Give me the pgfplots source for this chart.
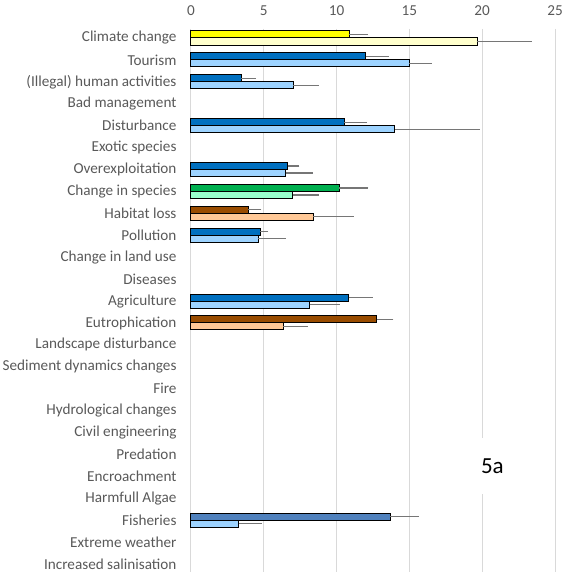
\documentclass[border=0pt]{standalone}
\usepackage{pgfplots}
\pgfplotsset{compat=1.18}
\usepackage{fontspec}
\setmainfont{Carlito}

\definecolor{txt}{HTML}{595959}
\definecolor{gridc}{HTML}{D9D9D9}
\definecolor{errc}{HTML}{767676}
\definecolor{yelD}{HTML}{FFFF00}
\definecolor{yelL}{HTML}{FFFFCC}
\definecolor{bluD}{HTML}{0070C0}
\definecolor{bluL}{HTML}{9DD3FF}
\definecolor{grnD}{HTML}{00B050}
\definecolor{grnL}{HTML}{99FFCC}
\definecolor{brnD}{HTML}{994C00}
\definecolor{brnL}{HTML}{FFC896}
\definecolor{stlD}{HTML}{4F81BD}

\pgfplotsset{
  barstyle/.style={draw=black, line width=1bp, fill=#1,
    error bars/x dir=plus, error bars/x explicit,
    error bars/error mark=none,
    error bars/error bar style={draw=errc, line width=1.2bp}},
}

\begin{document}
\begin{tikzpicture}
\begin{axis}[
  scale only axis, width=364bp, height=543bp,
  xmin=0, xmax=25, ymin=-0.41, ymax=24.36, y dir=reverse,
  xtick={0,5,10,15,20,25}, xticklabels={0,5,10,15,20,25},
  xticklabel pos=upper,
  ytick={0,...,24},
  yticklabels={Climate change, Tourism, (Illegal) human activities, Bad management,
    Disturbance, Exotic species, Overexploitation, Change in species, Habitat loss,
    Pollution, Change in land use, Diseases, Agriculture, Eutrophication,
    Landscape disturbance, Sediment dynamics changes, Fire, Hydrological changes,
    Civil engineering, Predation, Encroachment, Harmfull Algae, Fisheries,
    Extreme weather, Increased salinisation},
  axis line style={draw=none}, major tick length=0pt,
  xmajorgrids, grid style={draw=gridc, line width=1bp},
  tick label style={font=\fontsize{15.2bp}{17bp}\selectfont, text=txt},
  yticklabel style={anchor=east, xshift=-11bp},
  xticklabel style={yshift=10bp},
  xbar, bar width=0.32, bar shift=0pt,
  clip=false,
]
% upper bar of each pair
\addplot[barstyle=yelD] coordinates {(10.87,-0.16) +- (1.31,0)};
\addplot[barstyle=bluD] coordinates {
  (12.00,0.84) +- (1.60,0)
  (3.46,1.84) +- (1.00,0)
  (10.53,3.84) +- (1.56,0)
  (6.64,5.84) +- (0.80,0)
  (4.76,8.84) +- (0.53,0)
  (10.83,11.84) +- (1.65,0)};
\addplot[barstyle=grnD] coordinates {(10.19,6.84) +- (2.00,0)};
\addplot[barstyle=brnD] coordinates {
  (3.94,7.84) +- (0.89,0)
  (12.75,12.84) +- (1.15,0)};
\addplot[barstyle=stlD] coordinates {(13.70,21.84) +- (1.96,0)};
% lower bar of each pair
\addplot[barstyle=yelL] coordinates {(19.65,0.16) +- (3.75,0)};
\addplot[barstyle=bluL] coordinates {
  (15.00,1.16) +- (1.55,0)
  (7.03,2.16) +- (1.74,0)
  (14.00,4.16) +- (5.85,0)
  (6.50,6.16) +- (1.88,0)
  (4.62,9.16) +- (1.90,0)
  (8.15,12.16) +- (2.08,0)
  (3.28,22.16) +- (1.58,0)};
\addplot[barstyle=grnL] coordinates {(7.00,7.16) +- (1.77,0)};
\addplot[barstyle=brnL] coordinates {
  (8.40,8.16) +- (2.77,0)
  (6.32,13.16) +- (1.69,0)};
\node[fill=white, minimum width=80bp, minimum height=56bp,
  font=\fontsize{23bp}{26bp}\selectfont] at (axis cs:20.7,19.53) {5a};
\end{axis}
\pgfresetboundingbox
\path ([xshift=-191bp]current axis.south west) rectangle
  ([xshift=8bp,yshift=29bp]current axis.north east);
\end{tikzpicture}
\end{document}
